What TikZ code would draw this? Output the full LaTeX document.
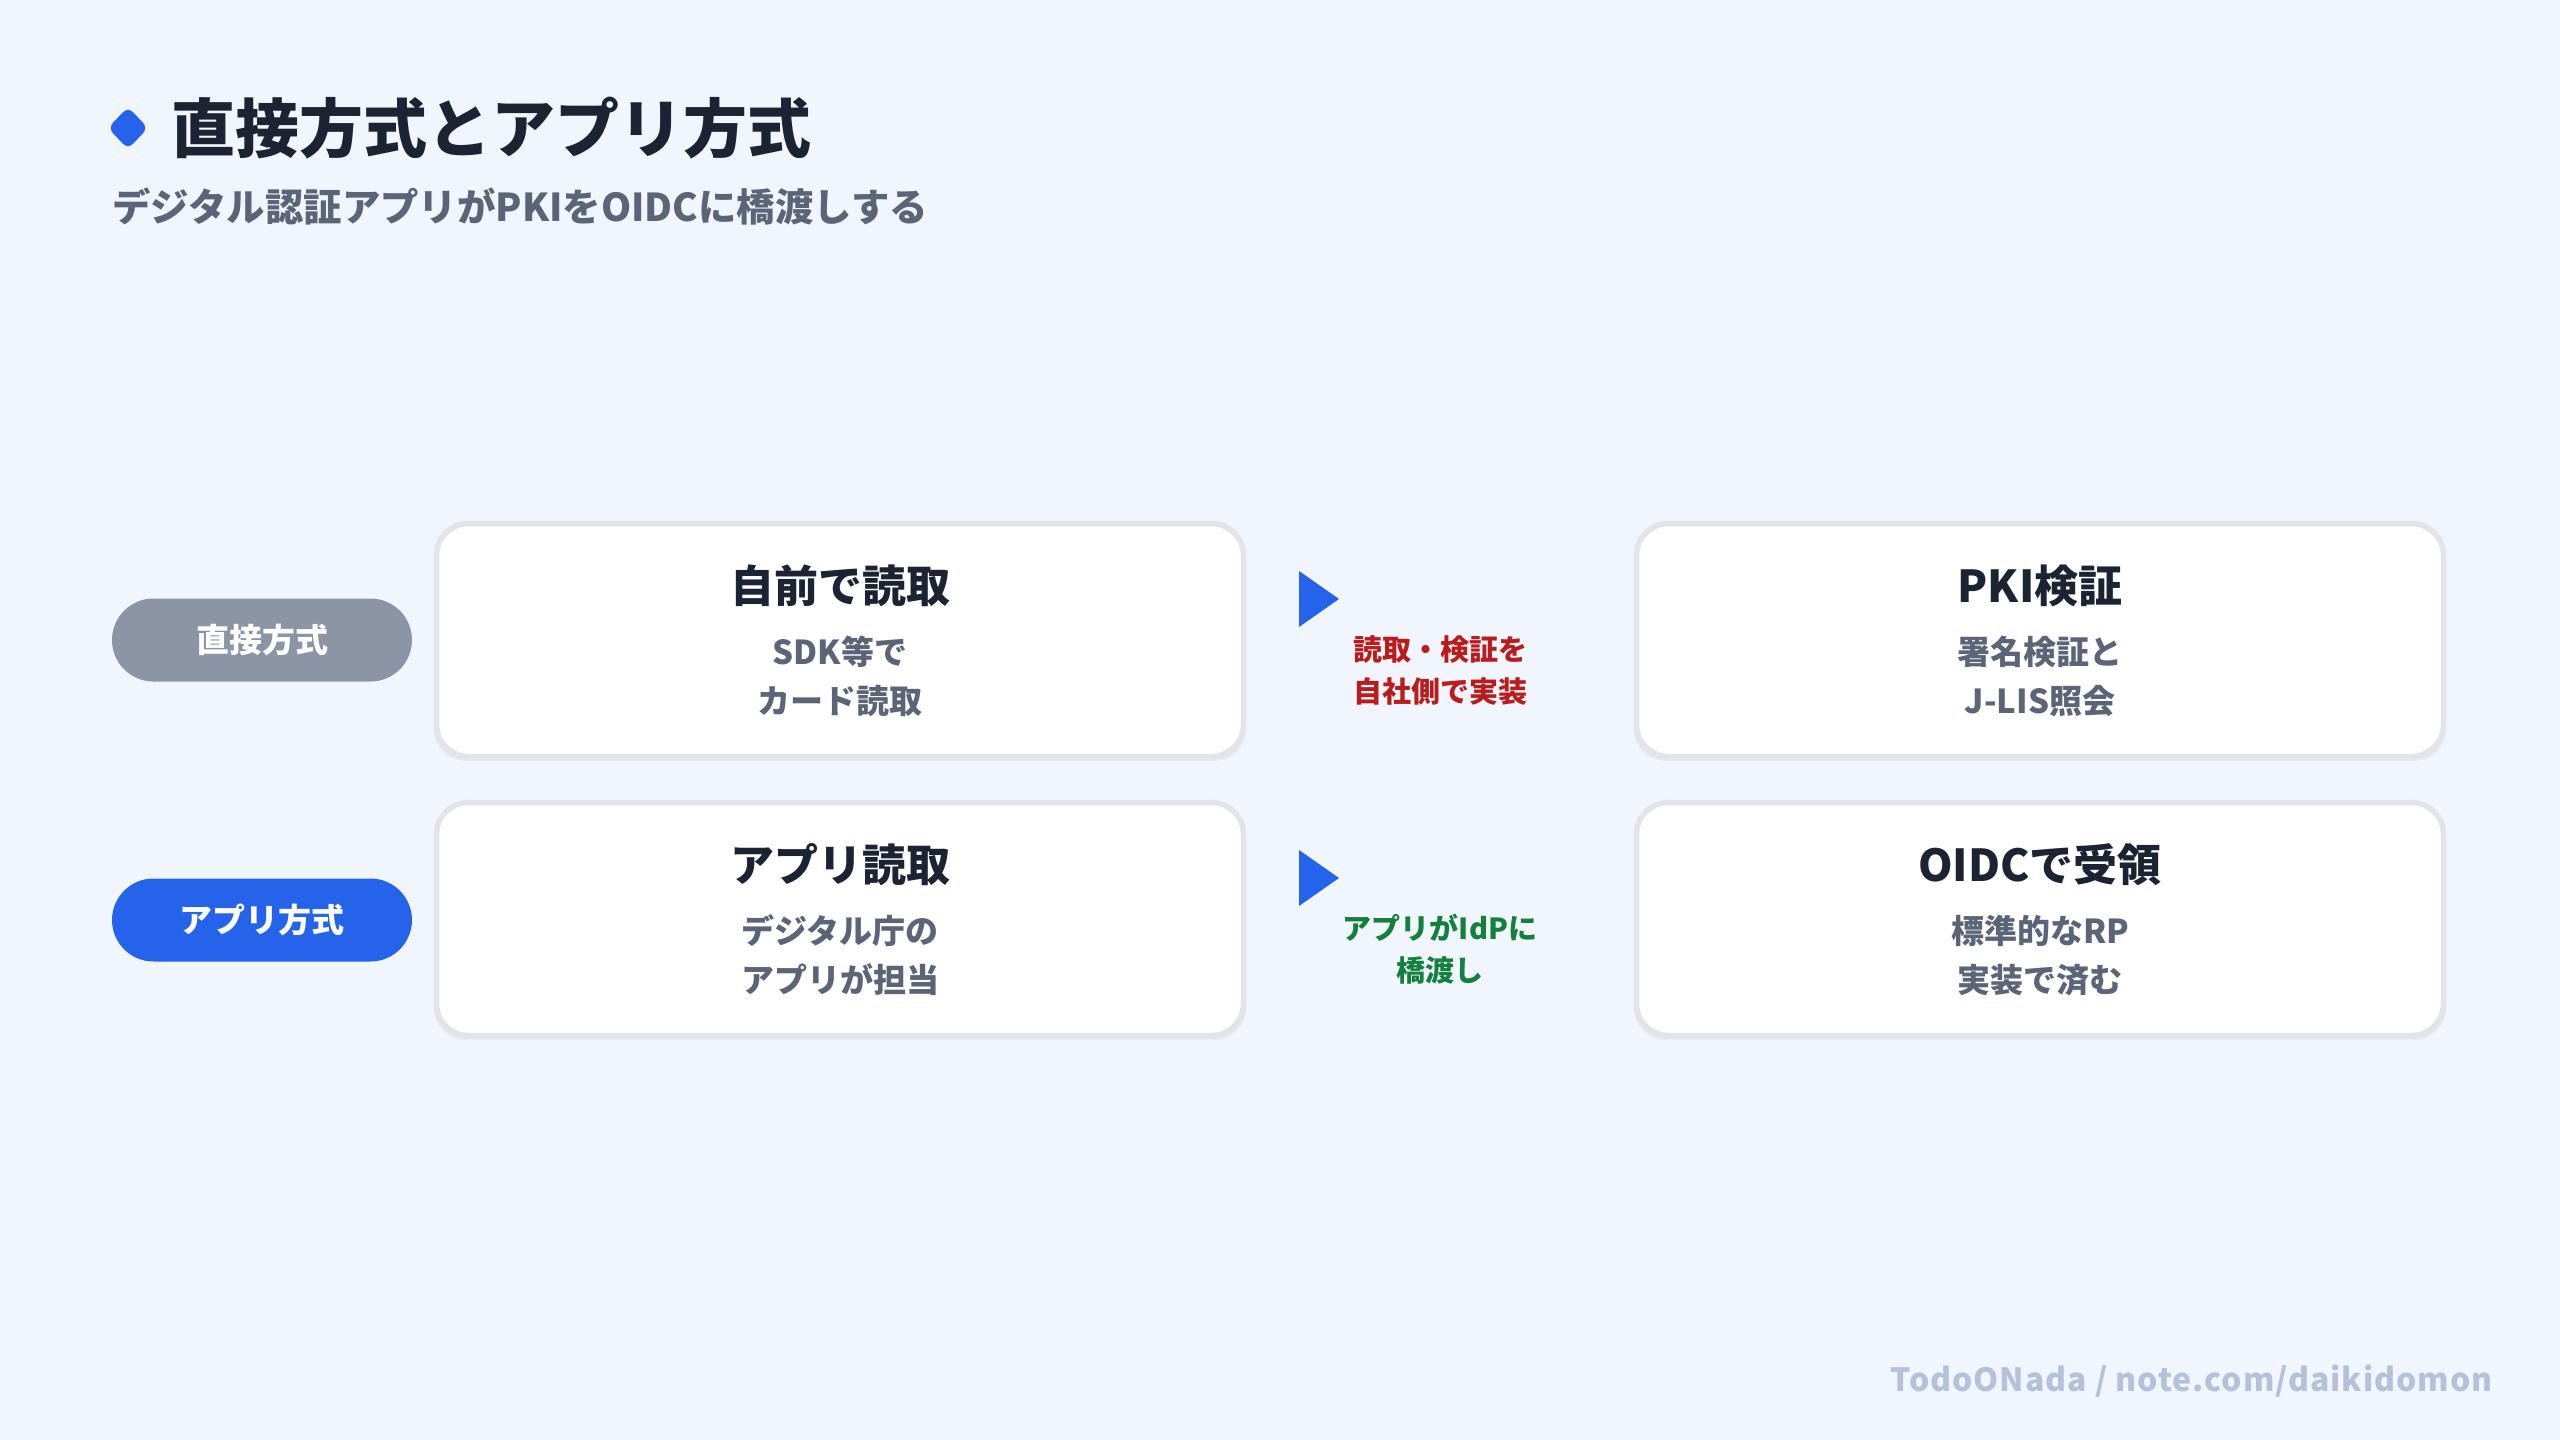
\documentclass[tikz,border=0pt]{standalone}
\usepackage{fontspec}
\setmainfont{Noto Sans CJK JP}
\definecolor{bgc}{HTML}{F1F6FE}
\definecolor{ink}{HTML}{1C2333}
\definecolor{subc}{HTML}{5C6477}
\definecolor{pillg}{HTML}{8B95A5}
\definecolor{blu}{HTML}{2563EB}
\definecolor{brd}{HTML}{E1E4E8}
\definecolor{shd}{HTML}{E6E9EE}
\definecolor{redc}{HTML}{B91C1C}
\definecolor{grnc}{HTML}{15803D}
\definecolor{foot}{HTML}{B4C1DA}
\tikzset{
  pillbox/.style={rounded corners=20.75pt, minimum width=150pt, minimum height=41.5pt, inner sep=0pt,
    text=white, font=\bfseries\fontsize{16.5pt}{16.5pt}\selectfont, text height=14.5pt, text depth=2pt},
  card/.style={draw=brd, line width=2.75pt, fill=white, rounded corners=16pt, minimum width=403.5pt, minimum height=116.5pt, inner sep=0pt},
  cardshadow/.style={fill=shd, rounded corners=16pt, minimum width=406pt, minimum height=119pt, inner sep=0pt},
  cardtitle/.style={anchor=base, inner sep=0pt, text=ink, font=\bfseries\fontsize{22pt}{22pt}\selectfont},
  cardsub/.style={anchor=base, inner sep=0pt, text=subc, font=\bfseries\fontsize{16.5pt}{16.5pt}\selectfont},
  arrlab/.style={anchor=base, inner sep=0pt, font=\bfseries\fontsize{14.5pt}{14.5pt}\selectfont},
  tri/.style={fill=blu}
}
\begin{document}
\begin{tikzpicture}[x=0.5pt,y=-0.5pt]
\fill[bgc] (0,0) rectangle (2560,1440);
\useasboundingbox (0,0) rectangle (2560,1440);

% title
\coordinate (dm) at (128,128);
\fill[blu, rounded corners=3.5pt] (dm) ++(0,-21) -- ++(20,21) -- ++(-20,21) -- ++(-20,-21) -- cycle;
\node[anchor=base west, inner sep=0pt, text=ink, font=\bfseries\fontsize{32pt}{32pt}\selectfont] (title) at (171,152) {直接方式とアプリ方式};
\node[anchor=base west, inner sep=0pt, text=subc, font=\bfseries\fontsize{19.2pt}{19.2pt}\selectfont] (subtitle) at (112,221) {デジタル認証アプリがPKIをOIDCに橋渡しする};

% row 1
\node[pillbox, fill=pillg] (p1) at (262,640) {直接方式};
\node[cardshadow] (c1s) at (840,642) {};
\node[card] (c1) at (840,640) {};
\node[cardtitle] (c1t) at (840,602) {自前で読取};
\node[cardsub] (c1a) at (840,664) {SDK等で};
\node[cardsub] (c1b) at (840,713) {カード読取};

\coordinate (t1) at (1299,599);
\fill[tri] (t1) ++(0,-28) -- ++(40,28) -- ++(-40,28) -- cycle;
\node[arrlab, text=redc] (l1a) at (1440,660) {読取・検証を};
\node[arrlab, text=redc] (l1b) at (1440,702) {自社側で実装};

\node[cardshadow] (r1s) at (2040,642) {};
\node[card] (r1) at (2040,640) {};
\node[cardtitle] (r1t) at (2040,602) {PKI検証};
\node[cardsub] (r1a) at (2040,664) {署名検証と};
\node[cardsub] (r1b) at (2040,713) {J-LIS照会};

% row 2
\node[pillbox, fill=blu] (p2) at (262,920) {アプリ方式};
\node[cardshadow] (c2s) at (840,921) {};
\node[card] (c2) at (840,919) {};
\node[cardtitle] (c2t) at (840,881) {アプリ読取};
\node[cardsub] (c2a) at (840,943) {デジタル庁の};
\node[cardsub] (c2b) at (840,992) {アプリが担当};

\coordinate (t2) at (1299,878);
\fill[tri] (t2) ++(0,-28) -- ++(40,28) -- ++(-40,28) -- cycle;
\node[arrlab, text=grnc] (l2a) at (1440,939) {アプリがIdPに};
\node[arrlab, text=grnc] (l2b) at (1440,981) {橋渡し};

\node[cardshadow] (r2s) at (2040,921) {};
\node[card] (r2) at (2040,919) {};
\node[cardtitle] (r2t) at (2040,881) {OIDCで受領};
\node[cardsub] (r2a) at (2040,943) {標準的なRP};
\node[cardsub] (r2b) at (2040,992) {実装で済む};

% footer
\node[anchor=base east, inner sep=0pt, text=foot, font=\bfseries\fontsize{16pt}{16pt}\selectfont\addfontfeatures{LetterSpace=3}] (ft) at (2493,1391) {TodoONada\ /\ note.com/daikidomon};
\end{tikzpicture}
\end{document}
